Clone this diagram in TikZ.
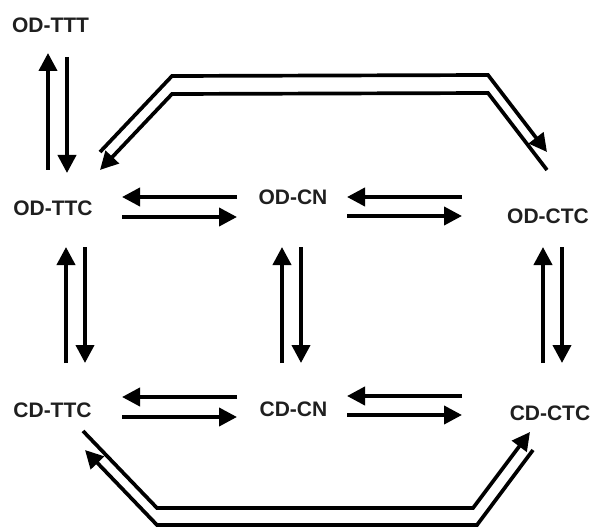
\documentclass[tikz,border=0pt]{standalone}
\usepackage{fontspec}
\setmainfont{Liberation Sans}
\usetikzlibrary{arrows.meta}
\begin{document}
\begin{tikzpicture}[x=1pt,y=-1pt,
  lbl/.style={font=\bfseries\fontsize{21}{23}\selectfont, inner sep=0pt, text=black!88},
  arr/.style={line width=3.9pt, -{Triangle[length=18pt,width=18pt]}},
  ln/.style={line width=3.7pt, line join=miter},
  larr/.style={ln, -{Triangle[length=18pt,width=18pt]}}]
\useasboundingbox (0,0) rectangle (590,527);
% labels
\node[lbl] (odttt) at (50.5,25) {OD-TTT};
\node[lbl] (odttc) at (53,208.5) {OD-TTC};
\node[lbl] (odcn) at (293,197.5) {OD-CN};
\node[lbl] (odctc) at (548,216) {OD-CTC};
\node[lbl] (cdttc) at (52.5,410) {CD-TTC};
\node[lbl] (cdcn) at (293.5,409) {CD-CN};
\node[lbl] (cdctc) at (550,413) {CD-CTC};
% vertical pair OD-TTT / OD-TTC
\coordinate (a1) at (48,170); \coordinate (a2) at (48,53);
\coordinate (b1) at (67,57); \coordinate (b2) at (67,173);
\draw[arr] (a1) -- (a2);
\draw[arr] (b1) -- (b2);
% left verticals
\coordinate (c1) at (66,363); \coordinate (c2) at (66,247);
\coordinate (d1) at (85,247); \coordinate (d2) at (85,363);
\draw[arr] (c1) -- (c2);
\draw[arr] (d1) -- (d2);
% middle verticals
\coordinate (e1) at (282,363); \coordinate (e2) at (282,247);
\coordinate (f1) at (301,247); \coordinate (f2) at (301,363);
\draw[arr] (e1) -- (e2);
\draw[arr] (f1) -- (f2);
% right verticals
\coordinate (g1) at (543,363); \coordinate (g2) at (543,247);
\coordinate (h1) at (562,247); \coordinate (h2) at (562,363);
\draw[arr] (g1) -- (g2);
\draw[arr] (h1) -- (h2);
% top horizontals
\coordinate (i1) at (237,197); \coordinate (i2) at (122,197);
\coordinate (j1) at (122,217); \coordinate (j2) at (237,217);
\draw[arr] (i1) -- (i2);
\draw[arr] (j1) -- (j2);
\coordinate (k1) at (462,197); \coordinate (k2) at (347,197);
\coordinate (l1) at (347,216); \coordinate (l2) at (462,216);
\draw[arr] (k1) -- (k2);
\draw[arr] (l1) -- (l2);
% bottom horizontals
\coordinate (m1) at (237,397); \coordinate (m2) at (122,397);
\coordinate (n1) at (122,417); \coordinate (n2) at (237,417);
\draw[arr] (m1) -- (m2);
\draw[arr] (n1) -- (n2);
\coordinate (o1) at (462,396); \coordinate (o2) at (347,396);
\coordinate (p1) at (347,415); \coordinate (p2) at (462,415);
\draw[arr] (o1) -- (o2);
\draw[arr] (p1) -- (p2);
% top big double arrow
\coordinate (q1) at (100,152); \coordinate (q2) at (547,152);
\coordinate (r1) at (547,170); \coordinate (r2) at (100,170);
\draw[larr] (q1) -- (172,76) -- (488,75) -- (q2);
\draw[larr] (r1) -- (488,93) -- (172,94) -- (r2);
% bottom big double arrow
\coordinate (s1) at (83,431); \coordinate (s2) at (530,432);
\coordinate (t1) at (533,450); \coordinate (t2) at (85,450);
\draw[larr] (s1) -- (157,508) -- (473,508) -- (s2);
\draw[larr] (t1) -- (477,525) -- (157,525) -- (t2);
\end{tikzpicture}
\end{document}
